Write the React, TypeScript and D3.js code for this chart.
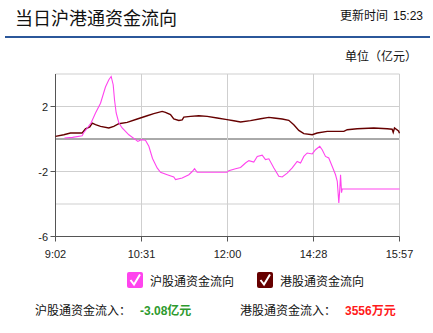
import React from "react";
import * as d3 from "d3";

const W = 433;
const H = 333;

// Axis labels: evenly spaced time slots, one every 89 units along the x domain
const timeLabels = ["9:02", "10:31", "12:00", "14:28", "15:57"];
const slotStep = 89;
const yGrid = [4, 2, 0, -2, -4, -6];
const yLabels = [2, -2, -6];

// Closing totals shown under the chart
const shTotal = -3.08; // 亿元
const hkTotalWan = 3556; // 万元

// 沪股通 net flow (亿元): [slot position, value]
const shFlow: [number, number][] = [
  [9.3, 0.06], [17.6, 0.1], [27.6, 0.2], [29, 0.37], [32, 0.6], [36.9, 1.0],
  [41.4, 1.6], [46.6, 2.2], [51.7, 3.2], [55.2, 3.65], [57.6, 3.85], [59.7, 3.34],
  [61.1, 2.4], [62.8, 1.6], [65.5, 1.0], [69, 0.68], [75.9, 0.26], [82.8, -0.04],
  [85.2, -0.15], [88.7, -0.04], [93.1, -0.08], [96.6, -0.45], [100.4, -1.2],
  [105.2, -1.78], [108.7, -2.05], [115.6, -2.2], [122.4, -2.34], [124.2, -2.5],
  [131.1, -2.4], [138, -2.2], [141.5, -2.0], [143.9, -1.83], [146.6, -2.05],
  [177.6, -2.05], [179.3, -1.95], [186.3, -1.83], [191.5, -1.75], [196.6, -1.48],
  [200.1, -1.33], [205.2, -1.42], [208.8, -1.08], [213.9, -1.0], [217.3, -1.27],
  [220.8, -1.22], [226, -1.78], [231.1, -2.3], [234.6, -2.34], [239.8, -2.1],
  [245, -1.78], [250.1, -1.38], [253.6, -1.48], [257, -1.07], [260.5, -0.86],
  [265.7, -0.92], [269.1, -0.66], [273.5, -0.45], [276, -0.66], [279.4, -1.07],
  [282.8, -1.17], [286.4, -1.69], [289.8, -2.2], [291.6, -2.6], [293.2, -3.94],
  [294.2, -3.1], [295, -2.2], [296, -3.3], [296.7, shTotal], [356, shTotal],
];

// 港股通 net flow (亿元): [slot position, value]
const hkFlow: [number, number][] = [
  [0, 0.16], [8.6, 0.26], [15.5, 0.37], [27.6, 0.37], [31, 0.62], [35.5, 0.74],
  [38, 0.98], [41.4, 0.88], [46.6, 0.78], [55.2, 0.68], [60.3, 0.78], [65.5, 0.94],
  [74.2, 1.02], [84.6, 1.23], [94.9, 1.43], [101.7, 1.56], [110.4, 1.7],
  [113.8, 1.64], [119, 1.5], [122.4, 1.23], [127.6, 1.14], [131.1, 1.18],
  [132.8, 1.35], [139.7, 1.39], [148.3, 1.43], [157, 1.39], [167.3, 1.29],
  [177.6, 1.19], [184.5, 1.12], [191.5, 1.05], [201.8, 1.13], [212.2, 1.25],
  [220.8, 1.33], [226, 1.29], [234.6, 1.23], [241.4, 1.15], [246.6, 0.88],
  [251.8, 0.53], [257, 0.33], [265.7, 0.26], [270.8, 0.37], [281.2, 0.47],
  [298.4, 0.47], [301.9, 0.57], [312.2, 0.63], [329.4, 0.68], [343.3, 0.63],
  [348.4, 0.6], [349.5, 0.41], [350.8, 0.68], [355, 0.5], [356, hkTotalWan / 10000],
];

const SH_COLOR = "#ff44ee";
const HK_COLOR = "#660000";
const CJK = "'Noto Sans CJK SC', 'Noto Sans', sans-serif";
const LATIN = "'Liberation Sans', Arial, sans-serif";

export default function App() {
  const x = d3.scaleLinear().domain([0, slotStep * (timeLabels.length - 1)]).range([55.5, 399.5]);
  const y = d3.scaleLinear().domain([-6, 4]).range([236.5, 74]);

  const line = d3
    .line<[number, number]>()
    .x((d) => x(d[0]))
    .y((d) => y(d[1]))
    .curve(d3.curveLinear);

  const left = x.range()[0];
  const right = x.range()[1];
  const top = y(4);
  const bottom = y(-6);

  const check = (bx: number, by: number) =>
    `M${bx + 3.5},${by + 8} L${bx + 7},${by + 12.5} L${bx + 13},${by + 2.5}`;

  return (
    <svg
      width={W}
      height={H}
      viewBox={`0 0 ${W} ${H}`}
      style={{ position: "absolute", left: 0, top: 0, background: "#fff" }}
    >
      <rect x={0} y={0} width={W} height={H} fill="#fff" />

      {/* header */}
      <text x={15} y={25} fontFamily={CJK} fontSize={18} fill="#111">
        当日沪港通资金流向
      </text>
      <text x={340} y={20} fontFamily={CJK} fontSize={12} fill="#111">
        更新时间
        <tspan fontFamily={LATIN} dx={5}>15:23</tspan>
      </text>
      <rect x={5} y={36} width={425} height={2} fill="#2b579a" />
      <text x={417} y={61} textAnchor="end" fontFamily={CJK} fontSize={12} fill="#111">
        单位（亿元）
      </text>

      {/* horizontal grid */}
      {yGrid.map((v) => (
        <line key={`g${v}`} x1={left} x2={right} y1={y(v)} y2={y(v)}
          stroke={v === 0 ? "#555" : "#cfcfcf"} strokeWidth={1} />
      ))}
      {/* vertical grid + x ticks */}
      {timeLabels.map((t, i) => (
        <g key={t}>
          <line x1={x(i * slotStep)} x2={x(i * slotStep)} y1={top} y2={bottom}
            stroke="#cfcfcf" strokeWidth={1} />
          <line x1={x(i * slotStep)} x2={x(i * slotStep)} y1={bottom} y2={bottom + 5}
            stroke="#555" strokeWidth={1} />
          <text x={x(i * slotStep)} y={258} textAnchor="middle"
            fontFamily={LATIN} fontSize={11} fill="#222">
            {t}
          </text>
        </g>
      ))}
      {/* axes */}
      <line x1={left} x2={left} y1={top} y2={bottom} stroke="#555" />
      <line x1={left} x2={right} y1={bottom} y2={bottom} stroke="#555" />
      {yLabels.map((v) => (
        <g key={`yl${v}`}>
          <line x1={left - 5} x2={left} y1={y(v)} y2={y(v)} stroke="#555" />
          <text x={48} y={y(v) + 4} textAnchor="end" fontFamily={LATIN} fontSize={11} fill="#222">
            {v}
          </text>
        </g>
      ))}

      {/* series */}
      <path d={line(hkFlow) ?? ""} fill="none" stroke={HK_COLOR} strokeWidth={1.4} />
      <path d={line(shFlow) ?? ""} fill="none" stroke={SH_COLOR} strokeWidth={1.1} />

      {/* legend */}
      <rect x={127} y={272} width={16} height={16} rx={2} fill={SH_COLOR} />
      <path d={check(127, 272)} fill="none" stroke="#fff" strokeWidth={2} />
      <text x={150} y={286} fontFamily={CJK} fontSize={12} fill="#111">沪股通资金流向</text>
      <rect x={257} y={272} width={16} height={16} rx={2} fill={HK_COLOR} />
      <path d={check(257, 272)} fill="none" stroke="#fff" strokeWidth={2} />
      <text x={280} y={286} fontFamily={CJK} fontSize={12} fill="#111">港股通资金流向</text>

      {/* totals */}
      <text x={35} y={315} fontFamily={CJK} fontSize={12} fill="#111">沪股通资金流入：</text>
      <text x={140} y={315} fontFamily={CJK} fontSize={12} fontWeight="bold" fill="#2e9a2e">
        <tspan fontFamily={LATIN}>{shTotal.toFixed(2)}</tspan>亿元
      </text>
      <text x={240} y={315} fontFamily={CJK} fontSize={12} fill="#111">港股通资金流入：</text>
      <text x={345} y={315} fontFamily={CJK} fontSize={12} fontWeight="bold" fill="#ff1a1a">
        <tspan fontFamily={LATIN}>{hkTotalWan}</tspan>万元
      </text>
    </svg>
  );
}
